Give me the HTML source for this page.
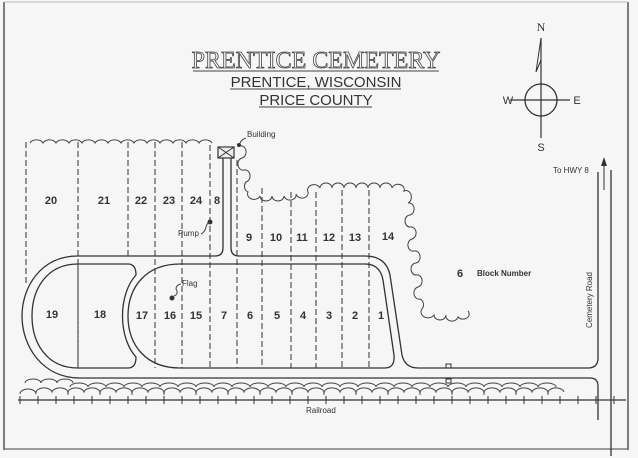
<!DOCTYPE html>
<html><head><meta charset="utf-8"><style>
html,body{margin:0;padding:0;background:#f6f6f6;}
svg{display:block;}
text{font-family:"Liberation Sans",sans-serif;fill:#333;}
.n{font-size:11px;font-weight:bold;text-anchor:middle;}
.d{stroke:#444;stroke-width:1.1;stroke-dasharray:6,3;fill:none;}
.r{stroke:#333;stroke-width:1.3;fill:none;}
.t{stroke:#444;stroke-width:1;fill:none;}
</style></head><body>
<svg width="638" height="458" viewBox="0 0 638 458" xmlns="http://www.w3.org/2000/svg">
<rect x="0" y="0" width="638" height="458" fill="#f6f6f6"/>
<!-- frame -->
<line x1="4" y1="2" x2="4" y2="450" stroke="#555" stroke-width="1.5"/>
<line x1="628" y1="2" x2="628" y2="450" stroke="#555" stroke-width="1.5"/>
<line x1="4" y1="449" x2="628" y2="449" stroke="#666" stroke-width="1.2"/>
<line x1="4" y1="2" x2="628" y2="2" stroke="#bbb" stroke-width="1"/>

<!-- title -->
<text x="316" y="68" text-anchor="middle" style="font-family:'Liberation Serif',serif;font-size:24px;fill:#f6f6f6;stroke:#444;stroke-width:0.8">PRENTICE  CEMETERY</text>
<line x1="193" y1="71" x2="439" y2="71" stroke="#444" stroke-width="1"/>
<text x="316" y="87" text-anchor="middle" style="font-size:15px;fill:#333">PRENTICE, WISCONSIN</text>
<line x1="230" y1="89" x2="401" y2="89" stroke="#444" stroke-width="1"/>
<text x="316" y="105" text-anchor="middle" style="font-size:15px;fill:#333">PRICE COUNTY</text>
<line x1="259" y1="107" x2="372" y2="107" stroke="#444" stroke-width="1"/>

<!-- compass -->
<text x="541" y="31" text-anchor="middle" style="font-family:'Liberation Serif',serif;font-size:12px">N</text>
<line x1="541" y1="38" x2="541" y2="138" stroke="#333" stroke-width="1.2"/>
<path d="M541,38 L536,72 L541,60 Z" fill="none" stroke="#333" stroke-width="1"/>
<circle cx="541" cy="100" r="16" fill="none" stroke="#333" stroke-width="1.3"/>
<line x1="510" y1="100" x2="570" y2="100" stroke="#333" stroke-width="1.2"/>
<text x="508" y="104" text-anchor="middle" style="font-size:11px">W</text>
<text x="577" y="104" text-anchor="middle" style="font-size:11px">E</text>
<text x="541" y="151" text-anchor="middle" style="font-size:11px">S</text>

<!-- trees top -->
<path class="t" d="M30,143 a7,5 0 0 1 13,0 a7,5 0 0 1 13,0 a7,5 0 0 1 13,0 a7,5 0 0 1 13,0 a7,5 0 0 1 13,0 a7,5 0 0 1 13,0 a7,5 0 0 1 13,0 a7,5 0 0 1 13,0 a7,5 0 0 1 13,0 a7,5 0 0 1 13,0 a7,5 0 0 1 13,0 a7,5 0 0 1 13,0 a7,5 0 0 1 13,0 a7,5 0 0 1 13,0"/>
<path class="t" d="M240,146 a5,6 0 0 1 2,12 a5,6 0 0 0 2,12 a5,6 0 0 1 2,12 a5,6 0 0 0 2,10 a6,5 0 0 0 12,4 a6,5 0 0 0 12,0 a6,5 0 0 0 12,0 a6,5 0 0 0 12,-2 a6,5 0 0 0 12,-2 a6,5 0 0 1 12,-4 a6,5 0 0 1 12,0 a6,5 0 0 1 12,0 a6,5 0 0 1 12,0 a6,5 0 0 1 12,0 a6,5 0 0 1 12,0 a6,5 0 0 1 12,0 a6,5 0 0 1 12,3 a5,6 0 0 1 4,12 a5,6 0 0 1 2,12 a5,6 0 0 0 0,12 a5,6 0 0 1 2,12 a5,6 0 0 0 2,12 a5,6 0 0 1 2,12 a5,6 0 0 0 0,12 a5,6 0 0 1 2,12 a5,6 0 0 0 2,12 a5,6 0 0 1 2,10 a6,5 0 0 0 12,6 a6,5 0 0 0 12,0 a6,5 0 0 0 12,2 a6,5 0 0 0 10,-6"/>

<!-- building -->
<rect x="218" y="147" width="16" height="11" fill="#eee" stroke="#333" stroke-width="1.2"/>
<path d="M218,147 L234,158 M234,147 L218,158" stroke="#333" stroke-width="1"/>
<circle cx="239" cy="145" r="2" fill="#333"/>
<path d="M240,143 q2,-4 6,-5" class="t"/>
<text x="247" y="137" style="font-size:8px">Building</text>

<!-- dashed lot lines -->
<g class="d">
<line x1="26" y1="142" x2="26" y2="285"/>
<line x1="78" y1="142" x2="78" y2="368"/>
<line x1="128" y1="142" x2="128" y2="256"/>
<line x1="155" y1="142" x2="155" y2="368"/>
<line x1="182" y1="142" x2="182" y2="368"/>
<line x1="210" y1="145" x2="210" y2="368"/>
<line x1="237" y1="160" x2="237" y2="368"/>
<line x1="262" y1="188" x2="262" y2="368"/>
<line x1="291" y1="192" x2="291" y2="368"/>
<line x1="316" y1="192" x2="316" y2="368"/>
<line x1="342" y1="190" x2="342" y2="368"/>
<line x1="369" y1="190" x2="369" y2="368"/>
</g>

<!-- roads -->
<path class="r" d="M223,158 L223,248 Q223,256 215,256 L78,256 C40,256 22,288 22,316 C22,346 42,378 80,378 L590,378 Q598,378 598,386 L598,420"/>
<path class="r" d="M231,158 L231,248 Q231,256 239,256 L365,256 Q386,256 390,275 L402,355 Q405,368 418,368 L588,368 Q598,368 598,358 L598,172"/>
<line x1="611" y1="170" x2="611" y2="456" stroke="#333" stroke-width="1.3"/>
<path class="r" fill="#f6f6f6" d="M78,264 L128,264 Q136,264 136,275 C118,295 118,337 136,357 Q136,368 128,368 L78,368 C46,368 32,342 32,316 C32,290 46,264 78,264 Z"/>
<path class="r" d="M365,264 Q380,264 383,280 L394,355 Q395,368 385,368 L180,368 C146,368 128,345 128,316 C128,287 146,264 180,264 Z"/>
<g class="d"><line x1="78" y1="264" x2="78" y2="368"/></g>
<!-- arrow -->
<line x1="604" y1="190" x2="604" y2="160" stroke="#333" stroke-width="1"/>
<path d="M601,166 L604,157 L607,166 Z" fill="#333"/>
<text x="553" y="173" style="font-size:8px">To HWY 8</text>
<text transform="translate(592,300) rotate(-90)" text-anchor="middle" style="font-size:8px">Cemetery Road</text>

<!-- small squares -->
<rect x="446" y="364" width="5" height="4" fill="none" stroke="#333"/>
<rect x="446" y="379" width="5" height="4" fill="none" stroke="#333"/>

<!-- bushes -->
<path class="t" d="M25,383 a8,4 0 0 1 16,0 a8,4 0 0 1 16,0 a8,4 0 0 1 16,0"/>
<path class="t" d="M20,394 a8,5 0 0 1 16,0 a8,5 0 0 1 16,-2 a8,5 0 0 1 16,2 a8,5 0 0 1 16,-2 a8,5 0 0 1 16,2 a8,5 0 0 1 16,-2 a8,5 0 0 1 16,2 a8,5 0 0 1 16,-2 a8,5 0 0 1 16,2 a8,5 0 0 1 16,-2 a8,5 0 0 1 16,2 a8,5 0 0 1 16,-2 a8,5 0 0 1 16,2 a8,5 0 0 1 16,-2 a8,5 0 0 1 16,2 a8,5 0 0 1 16,-2 a8,5 0 0 1 16,2 a8,5 0 0 1 16,-2 a8,5 0 0 1 16,2 a8,5 0 0 1 16,-2 a8,5 0 0 1 16,2 a8,5 0 0 1 16,-2 a8,5 0 0 1 16,2 a8,5 0 0 1 16,-2 a8,5 0 0 1 16,2 a8,5 0 0 1 16,-2 a8,5 0 0 1 16,2 a8,5 0 0 1 16,-2 a8,5 0 0 1 16,2 a8,5 0 0 1 16,-2 a8,5 0 0 1 16,2 a8,5 0 0 1 16,-2 a8,5 0 0 1 16,2 a8,5 0 0 1 16,-2"/>
<path class="t" d="M70,387 a9,4 0 0 1 18,0 a9,4 0 0 1 18,0 a9,4 0 0 1 18,0 a9,4 0 0 1 18,0 a9,4 0 0 1 18,0 a9,4 0 0 1 18,0 a9,4 0 0 1 18,0 a9,4 0 0 1 18,0 a9,4 0 0 1 18,0 a9,4 0 0 1 18,0 a9,4 0 0 1 18,0 a9,4 0 0 1 18,0 a9,4 0 0 1 18,0 a9,4 0 0 1 18,0 a9,4 0 0 1 18,0 a9,4 0 0 1 18,0 a9,4 0 0 1 18,0 a9,4 0 0 1 18,0 a9,4 0 0 1 18,0 a9,4 0 0 1 18,0 a9,4 0 0 1 18,0 a9,4 0 0 1 18,0 a9,4 0 0 1 18,0 a9,4 0 0 1 18,0 a9,4 0 0 1 18,0 a9,4 0 0 1 18,0 a9,4 0 0 1 18,0"/>

<!-- railroad -->
<line x1="18" y1="400" x2="626" y2="400" stroke="#333" stroke-width="1.3"/>
<path stroke="#333" stroke-width="1" d="M20,396v8M38,396v8M56,396v8M74,396v8M92,396v8M110,396v8M128,396v8M146,396v8M164,396v8M182,396v8M200,396v8M218,396v8M236,396v8M254,396v8M272,396v8M290,396v8M308,396v8M326,396v8M344,396v8M362,396v8M380,396v8M398,396v8M416,396v8M434,396v8M452,396v8M470,396v8M488,396v8M506,396v8M524,396v8M542,396v8M560,396v8M578,396v8M596,396v8M614,396v8"/>
<text x="306" y="413" style="font-size:8px">Railroad</text>

<!-- pump / flag -->
<circle cx="210" cy="222" r="2.5" fill="#333"/>
<path class="t" d="M201,234 q4,-2 5,-7 q1,-4 4,-5"/>
<text x="178" y="236" style="font-size:8px">Pump</text>
<circle cx="172" cy="298" r="2.5" fill="#333"/>
<path class="t" d="M174,296 q5,-2 2,-7 q0,-4 5,-5"/>
<text x="182" y="286" style="font-size:8px">Flag</text>

<!-- numbers -->
<g class="n">
<text x="51" y="204">20</text><text x="104" y="204">21</text><text x="141" y="204">22</text>
<text x="169" y="204">23</text><text x="196" y="204">24</text><text x="217" y="204">8</text>
<text x="249" y="241">9</text><text x="276" y="241">10</text><text x="302" y="241">11</text>
<text x="329" y="241">12</text><text x="355" y="241">13</text><text x="388" y="240">14</text>
<text x="52" y="318">19</text><text x="100" y="318">18</text><text x="142" y="319">17</text>
<text x="170" y="319">16</text><text x="196" y="319">15</text><text x="224" y="319">7</text>
<text x="250" y="319">6</text><text x="277" y="319">5</text><text x="303" y="319">4</text>
<text x="329" y="319">3</text><text x="355" y="319">2</text><text x="381" y="319">1</text>
<text x="460" y="277">6</text>
</g>
<text x="477" y="276" style="font-size:8px;font-weight:bold">Block Number</text>
</svg>
</body></html>
